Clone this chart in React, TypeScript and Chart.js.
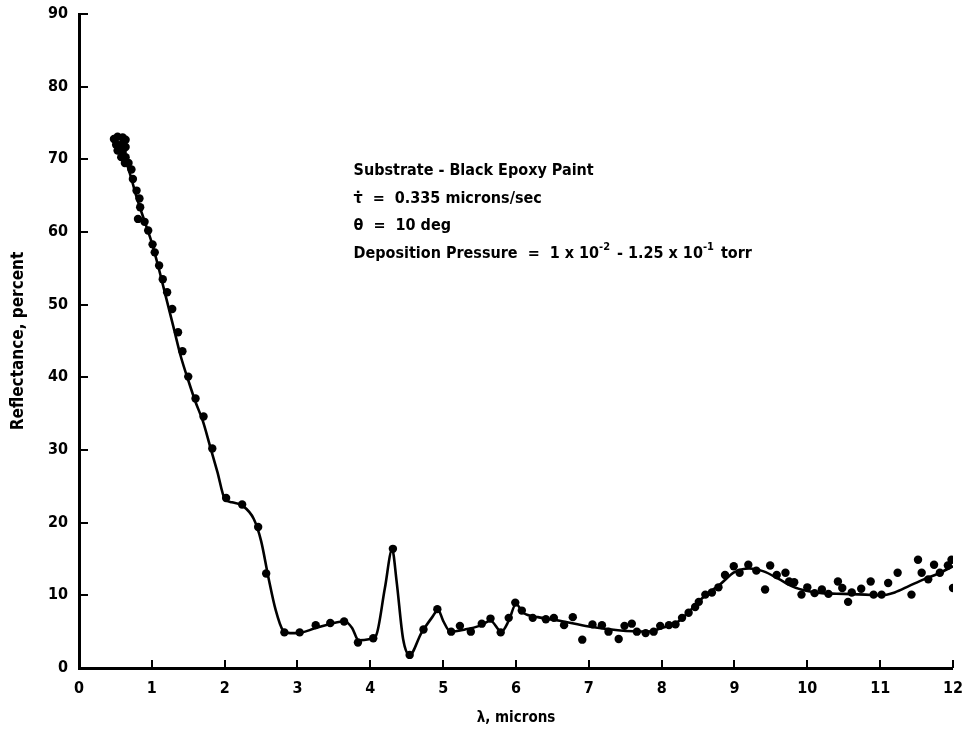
import React, { useEffect, useRef } from 'react';
import { Chart, registerables } from 'chart.js';

Chart.register(...registerables);

// Smooth fitted curve (λ in microns, reflectance in percent)
const curveX = [0.5, 0.6, 0.7, 0.8, 0.9, 1.0, 1.1, 1.2, 1.3, 1.4, 1.5, 1.6, 1.7, 1.8, 1.9, 2.0, 2.1, 2.25, 2.4, 2.5, 2.6, 2.7, 2.8, 2.9, 3.0, 3.25, 3.5, 3.65, 3.75, 3.84, 4.0, 4.08, 4.2, 4.3, 4.36, 4.45, 4.54, 4.7, 4.85, 4.93, 5.0, 5.1, 5.3, 5.5, 5.65, 5.8, 5.9, 6.0, 6.1, 6.3, 6.6, 7.0, 7.4, 7.8, 8.0, 8.2, 8.4, 8.6, 8.8, 9.0, 9.2, 9.4, 9.6, 9.8, 10.0, 10.2, 10.5, 10.8, 11.0, 11.2, 11.4, 11.6, 11.8, 12.0];
const curveY = [73.0, 71.0, 68.0, 64.5, 61.5, 58.5, 54.8, 50.8, 46.8, 42.8, 39.6, 36.6, 34.0, 30.5, 27.0, 23.3, 22.8, 22.3, 20.5, 17.5, 12.5, 8.0, 5.2, 4.8, 4.8, 5.5, 6.2, 6.4, 5.5, 3.8, 4.0, 4.5, 11.0, 16.3, 12.0, 4.0, 1.8, 4.8, 7.0, 8.0, 6.5, 5.0, 5.3, 5.8, 6.5, 5.0, 6.5, 8.8, 7.6, 7.0, 6.5, 5.7, 5.2, 5.0, 5.5, 6.2, 8.0, 10.0, 11.5, 13.2, 13.7, 13.3, 12.3, 11.2, 10.6, 10.3, 10.2, 10.1, 10.0, 10.4, 11.3, 12.2, 13.0, 14.0];

// Measured data points
const pointX = [0.48, 0.53, 0.60, 0.64, 0.51, 0.58, 0.64, 0.53, 0.60, 0.58, 0.64, 0.63, 0.68, 0.72, 0.74, 0.79, 0.83, 0.84, 0.81, 0.90, 0.95, 1.01, 1.04, 1.10, 1.15, 1.21, 1.28, 1.36, 1.42, 1.50, 1.60, 1.71, 1.83, 2.02, 2.24, 2.46, 2.57, 2.82, 3.03, 3.25, 3.45, 3.64, 3.83, 4.04, 4.31, 4.54, 4.73, 4.92, 5.11, 5.23, 5.38, 5.53, 5.65, 5.79, 5.90, 5.99, 6.08, 6.23, 6.41, 6.52, 6.66, 6.78, 6.91, 7.05, 7.18, 7.27, 7.41, 7.49, 7.59, 7.66, 7.78, 7.89, 7.98, 8.10, 8.19, 8.28, 8.37, 8.46, 8.51, 8.60, 8.69, 8.78, 8.87, 8.99, 9.07, 9.19, 9.30, 9.42, 9.49, 9.58, 9.70, 9.75, 9.82, 9.92, 10.0, 10.10, 10.20, 10.29, 10.42, 10.48, 10.56, 10.61, 10.74, 10.87, 10.91, 11.02, 11.11, 11.24, 11.43, 11.52, 11.57, 11.66, 11.74, 11.82, 11.93, 11.98, 12.0];
const pointY = [72.8, 73.1, 73.0, 72.7, 72.0, 72.0, 71.7, 71.2, 71.0, 70.3, 70.3, 69.5, 69.5, 68.6, 67.3, 65.7, 64.6, 63.4, 61.8, 61.4, 60.2, 58.3, 57.2, 55.4, 53.5, 51.7, 49.4, 46.2, 43.6, 40.1, 37.1, 34.6, 30.2, 23.4, 22.5, 19.4, 13.0, 4.9, 4.9, 5.9, 6.2, 6.4, 3.5, 4.1, 16.4, 1.8, 5.3, 8.1, 5.0, 5.8, 5.0, 6.1, 6.8, 4.9, 6.9, 9.0, 7.9, 6.9, 6.7, 6.9, 5.9, 7.0, 3.9, 6.0, 5.9, 5.0, 4.0, 5.8, 6.1, 5.0, 4.8, 5.0, 5.8, 5.9, 6.0, 6.9, 7.6, 8.4, 9.1, 10.1, 10.4, 11.1, 12.8, 14.0, 13.1, 14.2, 13.4, 10.8, 14.1, 12.8, 13.1, 11.9, 11.8, 10.1, 11.1, 10.3, 10.8, 10.2, 11.9, 11.0, 9.1, 10.4, 10.9, 11.9, 10.1, 10.1, 11.7, 13.1, 10.1, 14.9, 13.1, 12.2, 14.2, 13.1, 14.1, 14.9, 11.0];

const xTicks = [0, 1, 2, 3, 4, 5, 6, 7, 8, 9, 10, 11, 12];
const yTicks = [0, 10, 20, 30, 40, 50, 60, 70, 80, 90];
const xTitle = 'λ, microns';
const yTitle = 'Reflectance, percent';

const note1 = 'Substrate - Black Epoxy Paint';
const note2 = 'τ̇  =  0.335 microns/sec';
const note3 = 'θ  =  10 deg';
const note4 = [
  { t: 'Deposition Pressure  =  1 x 10', sup: false },
  { t: '-2', sup: true },
  { t: ' - 1.25 x 10', sup: false },
  { t: '-1', sup: true },
  { t: ' torr', sup: false },
];

const FONT = "'DejaVu Sans Condensed', 'Liberation Sans Narrow', 'DejaVu Sans', sans-serif";

export default function App() {
  const ref = useRef<HTMLCanvasElement>(null);

  useEffect(() => {
    if (!ref.current) return;

    const decor = {
      id: 'decor',
      afterDraw(chart: any) {
        const { ctx, chartArea } = chart;
        const xs = chart.scales.x;
        const ys = chart.scales.y;
        ctx.save();
        ctx.strokeStyle = '#000';
        ctx.lineWidth = 2;
        xTicks.forEach((v) => {
          const px = Math.round(xs.getPixelForValue(v));
          ctx.beginPath();
          ctx.moveTo(px, chartArea.bottom);
          ctx.lineTo(px, chartArea.bottom - 8);
          ctx.stroke();
        });
        yTicks.forEach((v) => {
          const py = Math.round(ys.getPixelForValue(v));
          ctx.beginPath();
          ctx.moveTo(chartArea.left, py);
          ctx.lineTo(chartArea.left + 9, py);
          ctx.stroke();
        });

        // annotation block
        const ax = xs.getPixelForValue(3.77);
        const rows = [68.4, 64.6, 60.8, 57.0].map((v) => ys.getPixelForValue(v));
        ctx.fillStyle = '#000';
        ctx.textBaseline = 'middle';
        ctx.textAlign = 'left';
        const main = `bold 16px ${FONT}`;
        const small = `bold 11px ${FONT}`;
        ctx.font = main;
        ctx.fillText(note1, ax, rows[0]);
        ctx.fillText(note2, ax, rows[1]);
        ctx.fillText(note3, ax, rows[2]);
        let cx = ax;
        note4.forEach((seg) => {
          ctx.font = seg.sup ? small : main;
          ctx.fillText(seg.t, cx, seg.sup ? rows[3] - 7 : rows[3]);
          cx += ctx.measureText(seg.t).width + (seg.sup ? 2 : 0);
        });
        ctx.restore();
      },
    };

    const chart = new Chart(ref.current, {
      type: 'scatter',
      data: {
        datasets: [
          {
            type: 'scatter',
            label: 'Data',
            data: pointX.map((x, i) => ({ x, y: pointY[i] })),
            backgroundColor: '#000',
            borderColor: '#000',
            pointRadius: 4.2,
            pointBorderWidth: 0,
            order: 1,
          },
          {
            type: 'line',
            label: 'Curve',
            data: curveX.map((x, i) => ({ x, y: curveY[i] })),
            borderColor: '#000',
            borderWidth: 2.6,
            pointRadius: 0,
            fill: false,
            cubicInterpolationMode: 'monotone',
            order: 2,
          } as any,
        ],
      },
      options: {
        animation: false,
        responsive: true,
        maintainAspectRatio: false,
        layout: { padding: { left: 0, right: 2, top: 14, bottom: 0 } },
        plugins: {
          legend: { display: false },
          tooltip: { enabled: false },
        },
        scales: {
          x: {
            type: 'linear',
            min: 0,
            max: 12,
            afterBuildTicks: (s: any) => {
              s.ticks = xTicks.map((v) => ({ value: v }));
            },
            afterFit: (s: any) => {
              s.height = 68;
            },
            grid: { display: false },
            border: { display: true, color: '#000', width: 3 },
            ticks: {
              color: '#000',
              padding: 3,
              autoSkip: false,
              maxRotation: 0,
              font: { family: FONT, size: 16, weight: 'bold' },
            },
            title: {
              display: true,
              text: xTitle,
              color: '#000',
              font: { family: FONT, size: 15, weight: 'bold' },
              padding: { top: 0, bottom: 9 },
            },
          },
          y: {
            type: 'linear',
            min: 0,
            max: 90,
            afterBuildTicks: (s: any) => {
              s.ticks = yTicks.map((v) => ({ value: v }));
            },
            afterFit: (s: any) => {
              s.width = 79;
            },
            grid: { display: false },
            border: { display: true, color: '#000', width: 3 },
            ticks: {
              color: '#000',
              padding: 3,
              autoSkip: false,
              font: { family: FONT, size: 16, weight: 'bold' },
            },
            title: {
              display: true,
              text: yTitle,
              color: '#000',
              font: { family: FONT, size: 17, weight: 'bold' },
              padding: { top: 8, bottom: 0 },
            },
          },
        },
      },
      plugins: [decor],
    } as any);

    return () => chart.destroy();
  }, []);

  return (
    <div style={{ position: 'fixed', left: 0, top: 0, width: 966, height: 736, background: '#fff' }}>
      <canvas ref={ref} />
    </div>
  );
}
